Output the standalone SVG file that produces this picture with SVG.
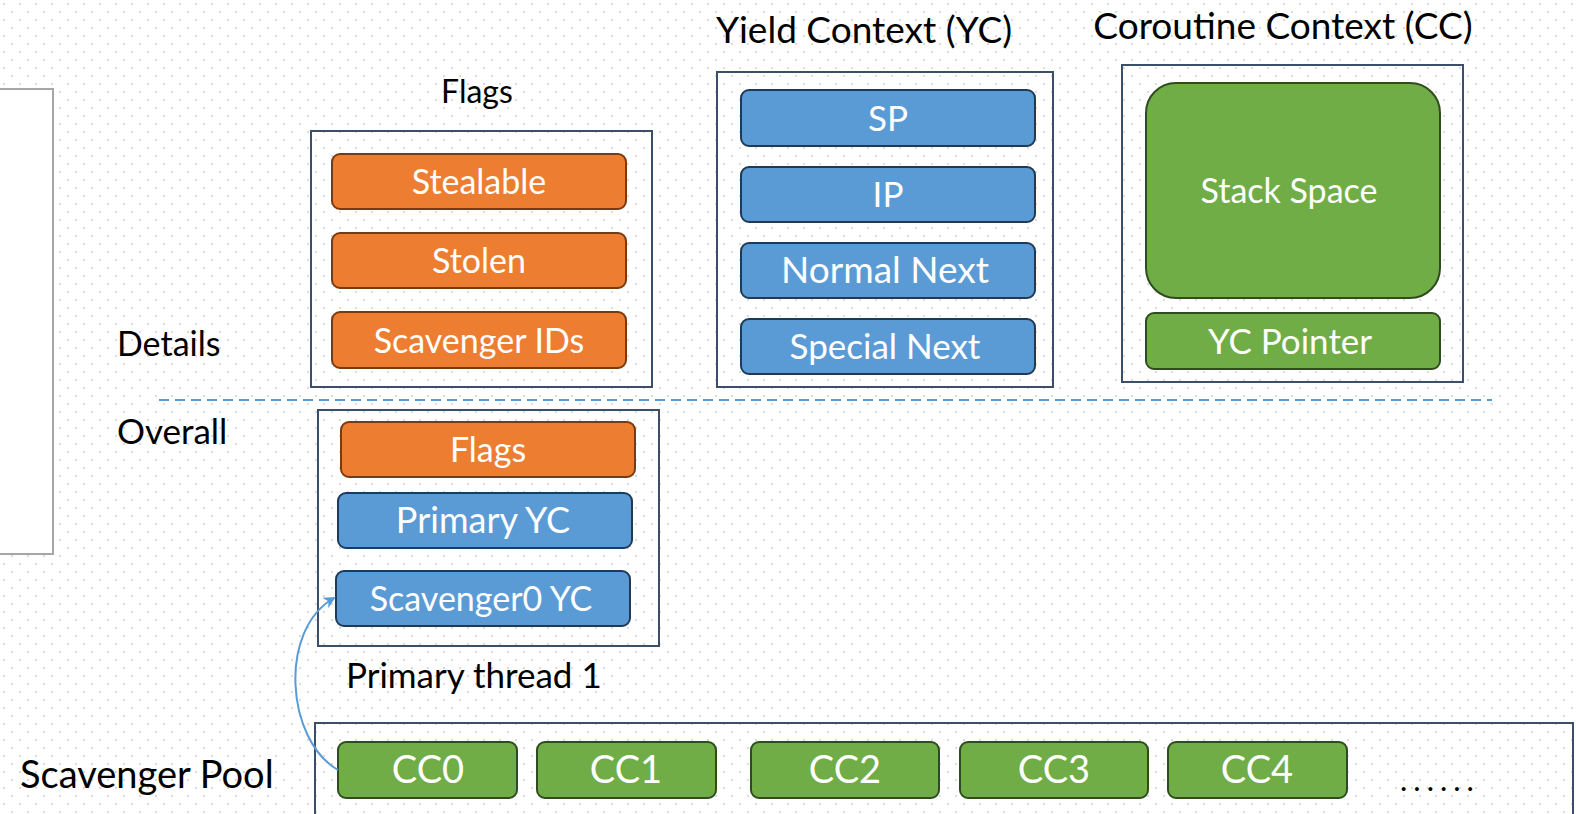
<svg xmlns="http://www.w3.org/2000/svg" width="1576" height="814" viewBox="0 0 1576 814">
  <defs>
    <pattern id="dots" width="16" height="16" patternUnits="userSpaceOnUse">
      <circle cx="4" cy="4" r="0.9" fill="#c9c9c9"/>
      <circle cx="12" cy="12" r="0.9" fill="#c9c9c9"/>
    </pattern>
    <marker id="arrowhead" markerWidth="14" markerHeight="14" refX="10" refY="6" orient="auto" markerUnits="userSpaceOnUse">
      <path d="M0,0 L12,6 L0,12 L3.5,6 Z" fill="#5b9bd5"/>
    </marker>
  </defs>
  <style>
    text { font-family: Lato, "Open Sans", "Liberation Sans", sans-serif; }
    .frame { fill: none; stroke: #3b5068; stroke-width: 2; }
    .orange { fill: #ed7d31; stroke: #7a3a10; stroke-width: 2; }
    .blue { fill: #5b9bd5; stroke: #1f3a57; stroke-width: 2; }
    .green { fill: #70ad47; stroke: #2f4c1f; stroke-width: 2; }
    .in { fill: #ffffff; font-size: 35px; text-anchor: middle; }
    .lbl { fill: #000000; font-size: 34px; }
    .title { font-size: 37px; }
    .mid { text-anchor: middle; }
  </style>

  <!-- background -->
  <rect x="0" y="0" width="1576" height="814" fill="#ffffff"/>
  <rect x="0" y="0" width="1576" height="814" fill="url(#dots)"/>

  <!-- side panel -->
  <rect id="side-panel" x="-2" y="89" width="55" height="465" fill="#ffffff" stroke="#a6a6a6" stroke-width="2"/>

  <!-- section labels and divider -->
  <text class="lbl" x="117" y="356">Details</text>
  <text class="lbl" x="117" y="444" style="font-size:35px">Overall</text>
  <line x1="159" y1="400" x2="1492" y2="400" stroke="#5b9bd5" stroke-width="2" stroke-dasharray="10,6"/>

  <!-- Flags detail -->
  <g id="flags-detail">
    <text class="lbl mid" x="477" y="103" style="font-size:32px">Flags</text>
    <rect class="frame" x="311" y="131" width="341" height="256"/>
    <rect class="orange" x="332" y="154" width="294" height="55" rx="8"/>
    <text class="in" x="479" y="194" style="font-size:34px">Stealable</text>
    <rect class="orange" x="332" y="233" width="294" height="55" rx="8"/>
    <text class="in" x="479" y="273" style="font-size:34px">Stolen</text>
    <rect class="orange" x="332" y="312" width="294" height="56" rx="8"/>
    <text class="in" x="479" y="353" style="font-size:34px">Scavenger IDs</text>
  </g>

  <!-- Yield Context detail -->
  <g id="yield-context">
    <text class="lbl mid title" x="864" y="43">Yield Context (YC)</text>
    <rect class="frame" x="717" y="72" width="336" height="315"/>
    <rect class="blue" x="741" y="90" width="294" height="56" rx="8"/>
    <text class="in" x="888" y="131">SP</text>
    <rect class="blue" x="741" y="167" width="294" height="55" rx="8"/>
    <text class="in" x="888" y="207">IP</text>
    <rect class="blue" x="741" y="243" width="294" height="55" rx="8"/>
    <text class="in" x="885" y="283" style="font-size:37px">Normal Next</text>
    <rect class="blue" x="741" y="319" width="294" height="55" rx="8"/>
    <text class="in" x="885" y="359">Special Next</text>
  </g>

  <!-- Coroutine Context detail -->
  <g id="coroutine-context">
    <text class="lbl mid title" x="1283" y="39">Coroutine Context (CC)</text>
    <rect class="frame" x="1122" y="65" width="341" height="317"/>
    <rect class="green" x="1146" y="83" width="294" height="215" rx="30"/>
    <text class="in" x="1289" y="203" style="font-size:34px">Stack Space</text>
    <rect class="green" x="1146" y="313" width="294" height="56" rx="8"/>
    <text class="in" x="1290" y="354">YC Pointer</text>
  </g>

  <!-- Primary thread overview -->
  <g id="primary-thread">
    <rect class="frame" x="318" y="410" width="341" height="236"/>
    <rect class="orange" x="341" y="422" width="294" height="55" rx="8"/>
    <text class="in" x="488" y="462" style="font-size:34px">Flags</text>
    <rect class="blue" x="338" y="493" width="294" height="55" rx="8"/>
    <text class="in" x="483" y="533" style="font-size:36px">Primary YC</text>
    <rect class="blue" x="336" y="571" width="294" height="55" rx="8"/>
    <text class="in" x="481" y="611" style="font-size:34px">Scavenger0 YC</text>
    <text class="lbl" x="346" y="688" style="font-size:35px">Primary thread 1</text>
  </g>

  <!-- Scavenger pool -->
  <g id="scavenger-pool">
    <text class="lbl" x="20" y="788" style="font-size:38px">Scavenger Pool</text>
    <rect class="frame" x="315" y="723" width="1258" height="110"/>
    <g id="cc0"><rect class="green" x="338" y="742" width="179" height="56" rx="8"/><text class="in" x="428" y="783" style="font-size:38px">CC0</text></g>
    <g id="cc1"><rect class="green" x="537" y="742" width="179" height="56" rx="8"/><text class="in" x="626" y="783" style="font-size:38px">CC1</text></g>
    <g id="cc2"><rect class="green" x="751" y="742" width="188" height="56" rx="8"/><text class="in" x="845" y="783" style="font-size:38px">CC2</text></g>
    <g id="cc3"><rect class="green" x="960" y="742" width="188" height="56" rx="8"/><text class="in" x="1054" y="783" style="font-size:38px">CC3</text></g>
    <g id="cc4"><rect class="green" x="1168" y="742" width="179" height="56" rx="8"/><text class="in" x="1257" y="783" style="font-size:38px">CC4</text></g>
    <text class="lbl" x="1400" y="791" style="font-size:31px;letter-spacing:6px">......</text>
  </g>

  <!-- connectors -->
  <g id="connectors">
    <path d="M338,770 C286,740 278,630 334,598" fill="none" stroke="#5b9bd5" stroke-width="2" marker-end="url(#arrowhead)"/>
  </g>
</svg>
